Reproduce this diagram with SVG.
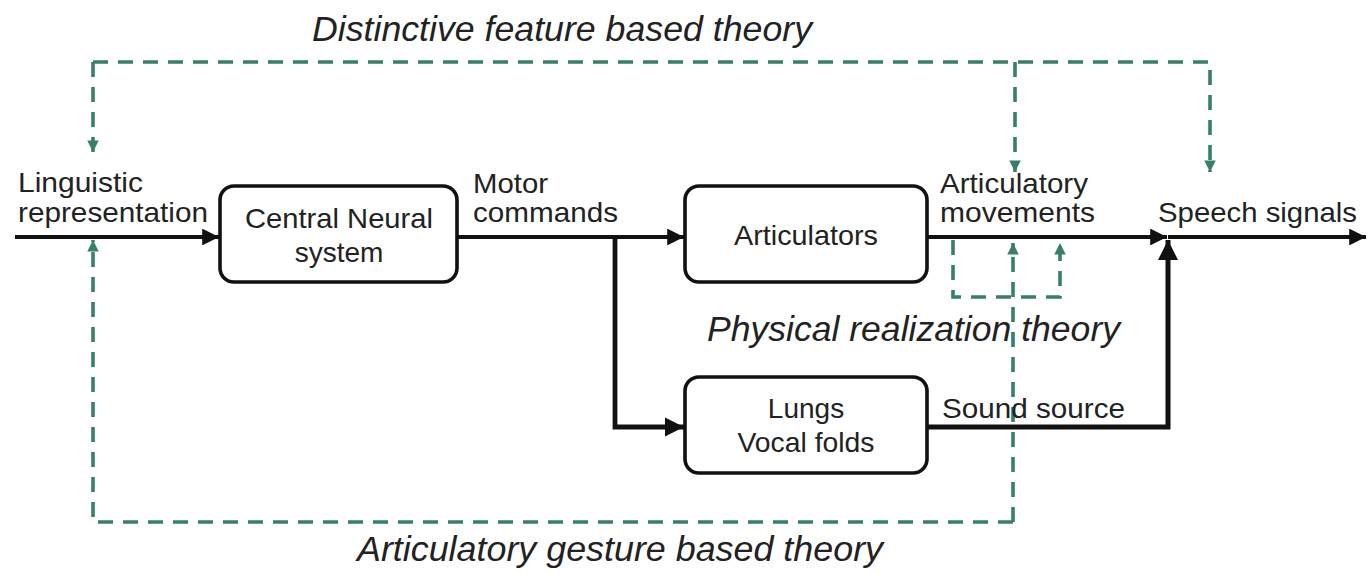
<svg xmlns="http://www.w3.org/2000/svg" width="1368" height="574" viewBox="0 0 1368 574">
<style>
.box{fill:#fff;stroke:#111;stroke-width:3.6}
.ln{fill:none;stroke:#111;stroke-width:4.2}
.dash{fill:none;stroke:#35806a;stroke-width:3.6;stroke-dasharray:15 10}
.t{font-family:"Liberation Sans",Arial,sans-serif;font-size:28px;fill:#222}
.it{font-family:"Liberation Sans",Arial,sans-serif;font-size:35px;font-style:italic;fill:#222}
</style>
<defs>
<marker id="ah" viewBox="0 0 10 10" refX="10" refY="5" markerWidth="4" markerHeight="4" orient="auto" markerUnits="strokeWidth">
<path d="M0,0 L10,5 L0,10 z" fill="#111"/>
</marker>
<marker id="gh" viewBox="0 0 10 10" refX="10" refY="5" markerWidth="3.2" markerHeight="3.2" orient="auto" markerUnits="strokeWidth">
<path d="M0,0 L10,5 L0,10 z" fill="#35806a"/>
</marker>
</defs>
<g id="connectors">
<path class="ln" d="M15,237 H219" marker-end="url(#ah)"/>
<path class="ln" d="M457,237 H684" marker-end="url(#ah)"/>
<path class="ln" d="M615,237 V427 H684" marker-end="url(#ah)" style="stroke-width:4.8"/>
<path class="ln" d="M927,237 H1167" marker-end="url(#ah)"/>
<path class="ln" d="M927,427 H1168 V240" marker-end="url(#ah)" style="stroke-width:5"/>
<path class="ln" d="M1168,237 H1366" marker-end="url(#ah)"/>
<path class="dash" d="M93,62 H1210 V172" marker-end="url(#gh)"/>
<path class="dash" d="M93,62 V152" marker-end="url(#gh)"/>
<path class="dash" d="M1015,62 V172" marker-end="url(#gh)"/>
<path class="dash" d="M1013,522 H93 V240" marker-end="url(#gh)"/>
<path class="dash" d="M1013,522 V243" marker-end="url(#gh)"/>
<path class="dash" d="M953,240 V297 H1060 V243" marker-end="url(#gh)"/>
</g>
<g id="node-cns">
<rect class="box" x="220" y="186" width="237" height="96" rx="14"/>
<text class="t" x="339" y="228" text-anchor="middle" textLength="188" lengthAdjust="spacingAndGlyphs">Central Neural</text>
<text class="t" x="339" y="262" text-anchor="middle">system</text>
</g>
<g id="node-articulators">
<rect class="box" x="685" y="186" width="242" height="96" rx="14"/>
<text class="t" x="806" y="245" text-anchor="middle" textLength="144" lengthAdjust="spacingAndGlyphs">Articulators</text>
</g>
<g id="node-lungs">
<rect class="box" x="685" y="377" width="242" height="96" rx="14"/>
<text class="t" x="806" y="418" text-anchor="middle">Lungs</text>
<text class="t" x="806" y="452" text-anchor="middle" textLength="137" lengthAdjust="spacingAndGlyphs">Vocal folds</text>
</g>
<g id="labels">
<text class="t" x="18" y="192" textLength="125" lengthAdjust="spacingAndGlyphs">Linguistic</text>
<text class="t" x="18" y="222" textLength="190" lengthAdjust="spacingAndGlyphs">representation</text>
<text class="t" x="473" y="193" textLength="75" lengthAdjust="spacingAndGlyphs">Motor</text>
<text class="t" x="473" y="222" textLength="145" lengthAdjust="spacingAndGlyphs">commands</text>
<text class="t" x="940" y="193" textLength="148" lengthAdjust="spacingAndGlyphs">Articulatory</text>
<text class="t" x="940" y="222" textLength="155" lengthAdjust="spacingAndGlyphs">movements</text>
<text class="t" x="1158" y="222" textLength="199" lengthAdjust="spacingAndGlyphs">Speech signals</text>
<text class="t" x="942" y="418" textLength="183" lengthAdjust="spacingAndGlyphs">Sound source</text>
<text class="it" x="312" y="41" textLength="500" lengthAdjust="spacingAndGlyphs">Distinctive feature based theory</text>
<text class="it" x="707" y="341" textLength="413" lengthAdjust="spacingAndGlyphs">Physical realization theory</text>
<text class="it" x="357" y="561" textLength="526" lengthAdjust="spacingAndGlyphs">Articulatory gesture based theory</text>
</g>
</svg>
